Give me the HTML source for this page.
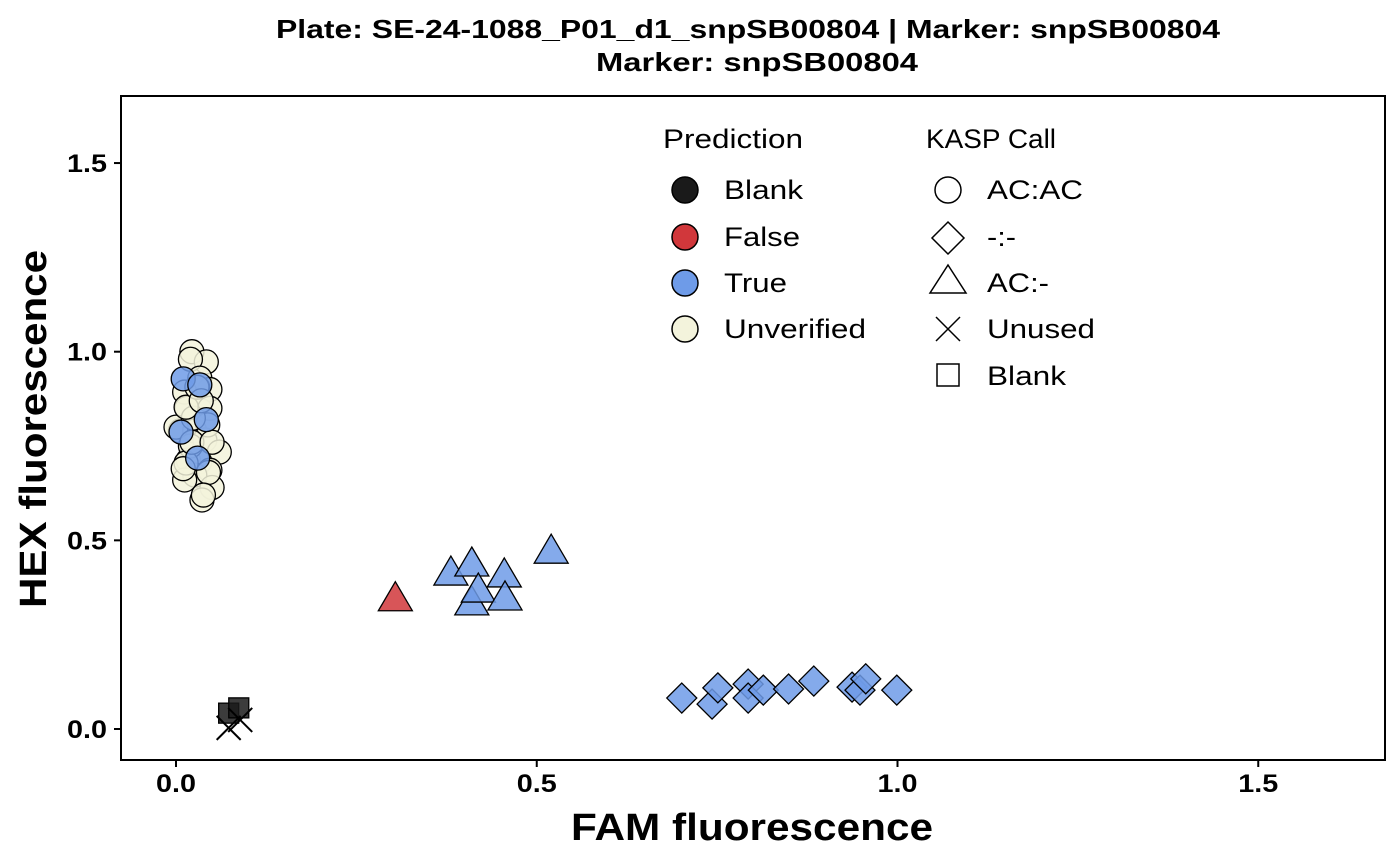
<!DOCTYPE html>
<html><head><meta charset="utf-8"><style>
body{margin:0;background:#fff;}
svg{display:block;font-family:"Liberation Sans",Arial,sans-serif;}
</style></head><body>
<svg id="chart" width="1400" height="865" viewBox="0 0 1400 865">
<text x="748" y="38" text-anchor="middle" font-size="26" font-weight="bold" textLength="944" lengthAdjust="spacingAndGlyphs">Plate: SE-24-1088_P01_d1_snpSB00804 | Marker: snpSB00804</text>
<text x="757" y="71" text-anchor="middle" font-size="26" font-weight="bold" textLength="322" lengthAdjust="spacingAndGlyphs">Marker:  snpSB00804</text>
<g id="marks"></g>
<rect x="121" y="96" width="1264" height="664" fill="none" stroke="#000" stroke-width="2"/>
<g id="axes"></g>
<text x="752" y="840" text-anchor="middle" font-size="38" font-weight="bold" textLength="362" lengthAdjust="spacingAndGlyphs">FAM fluorescence</text>
<text transform="translate(46,429) rotate(-90)" text-anchor="middle" font-size="38" font-weight="bold" textLength="358" lengthAdjust="spacingAndGlyphs">HEX fluorescence</text>
<g id="legend" font-size="27">
<text x="663" y="148" textLength="140" lengthAdjust="spacingAndGlyphs">Prediction</text>
<g><circle cx="685" cy="190" r="13" fill="#1a1a1a" stroke="#000" stroke-width="1.5"/><text x="724" y="199" textLength="79" lengthAdjust="spacingAndGlyphs">Blank</text></g>
<g><circle cx="685" cy="237" r="13" fill="#d1373b" stroke="#000" stroke-width="1.5"/><text x="724" y="246" textLength="76" lengthAdjust="spacingAndGlyphs">False</text></g>
<g><circle cx="685" cy="283" r="13" fill="#6e9be8" stroke="#000" stroke-width="1.5"/><text x="724" y="292" textLength="63" lengthAdjust="spacingAndGlyphs">True</text></g>
<g><circle cx="685" cy="329" r="13" fill="#f3f3dc" stroke="#000" stroke-width="1.5"/><text x="724" y="338" textLength="142" lengthAdjust="spacingAndGlyphs">Unverified</text></g>
<text x="926" y="148" textLength="130" lengthAdjust="spacingAndGlyphs">KASP Call</text>
<g><circle cx="948" cy="190" r="13" fill="none" stroke="#000" stroke-width="1.5"/><text x="987" y="199" textLength="96" lengthAdjust="spacingAndGlyphs">AC:AC</text></g>
<g><path d="M948 222 L964 238 L948 254 L932 238Z" fill="none" stroke="#000" stroke-width="1.5"/><text x="987" y="246" textLength="29" lengthAdjust="spacingAndGlyphs">-:-</text></g>
<g><path d="M948 265 L966 293 L930 293Z" fill="none" stroke="#000" stroke-width="1.5"/><text x="987" y="292" textLength="62" lengthAdjust="spacingAndGlyphs">AC:-</text></g>
<g><path d="M936 317 L960 341 M960 317 L936 341" stroke="#000" stroke-width="1.5"/><text x="987" y="338" textLength="108" lengthAdjust="spacingAndGlyphs">Unused</text></g>
<g><rect x="937" y="364" width="22" height="22" fill="none" stroke="#000" stroke-width="1.5"/><text x="987" y="385" textLength="79" lengthAdjust="spacingAndGlyphs">Blank</text></g>
</g>
</svg>
<script>
const xTicks=[0.0,0.5,1.0,1.5];
const yTicks=[0.0,0.5,1.0,1.5];
const tickLabels=["0.0","0.5","1.0","1.5"];
const fam=[0.022,0.042,0.020,0.033,0.047,0.030,0.012,0.033,0.047,0.015,0.006,0.026,0.040,0.060,0.017,0.033,0.047,0.026,0.012,0.050,0.036,0.000,0.020,0.044,0.024,0.014,0.014,0.029,0.045,0.035,0.022,0.050,0.010,0.038,
 0.010,0.033,0.007,0.030,0.042,
 0.073,0.087,0.073,0.089,
 0.304,
 0.381,0.410,0.410,0.419,0.455,0.456,0.520,
 0.701,0.743,0.751,0.793,0.793,0.814,0.849,0.884,0.937,0.948,0.956,0.999];
const hex=[1.000,0.973,0.980,0.930,0.900,0.905,0.893,0.846,0.850,0.850,0.790,0.790,0.766,0.734,0.713,0.708,0.686,0.673,0.660,0.640,0.607,0.800,0.750,0.806,0.824,0.705,0.853,0.906,0.680,0.870,0.760,0.760,0.690,0.620,
 0.928,0.912,0.787,0.718,0.820,
 0.042,0.056,0.003,0.024,
 0.340,
 0.408,0.432,0.329,0.363,0.403,0.342,0.466,
 0.082,0.066,0.109,0.119,0.082,0.103,0.106,0.127,0.111,0.103,0.133,0.103];
const prediction=[].concat(Array(34).fill("Unverified"),Array(5).fill("True"),Array(4).fill("Blank"),["False"],Array(7).fill("True"),Array(12).fill("True"));
const call=[].concat(Array(39).fill("AC:AC"),["Blank","Blank","Unused","Unused"],Array(8).fill("AC:-"),Array(12).fill("-:-"));
const colors={Blank:"#1a1a1a",False:"#d1373b",True:"#6e9be8",Unverified:"#f3f3dc"};
const X=v=>176+v*721.5, Y=v=>729-v*377.3;
const NS="http://www.w3.org/2000/svg";
const marks=document.getElementById('marks'), axes=document.getElementById('axes');
function mk(t,a,p){const e=document.createElementNS(NS,t);for(const k in a)e.setAttribute(k,a[k]);p.appendChild(e);return e;}
xTicks.forEach((v,i)=>{
 const l=mk('line',{x1:X(v),x2:X(v),y1:760,y2:767,stroke:'#000','stroke-width':2},axes);
 
 
 const t=mk('text',{x:X(v),y:792,'text-anchor':'middle','font-size':25,'font-weight':'bold',textLength:40,lengthAdjust:'spacingAndGlyphs'},axes);t.textContent=tickLabels[i];
 
 
});
yTicks.forEach((v,i)=>{
 const l=mk('line',{x1:114,x2:121,y1:Y(v),y2:Y(v),stroke:'#000','stroke-width':2},axes);
 
 
 const t=mk('text',{x:107,y:Y(v)+9,'text-anchor':'end','font-size':25,'font-weight':'bold',textLength:40,lengthAdjust:'spacingAndGlyphs'},axes);t.textContent=tickLabels[i];
 
 
});
fam.forEach((f,i)=>{
 const cx=X(f), cy=Y(hex[i]), c=colors[prediction[i]], k=call[i];
 let e;
 const st={fill:c,stroke:'#000','stroke-width':1.3,'fill-opacity':0.85};
 if(k==="AC:AC") e=mk('circle',Object.assign({cx:cx,cy:cy,r:12},st),marks);
 else if(k==="-:-") e=mk('path',Object.assign({d:`M${cx} ${cy-15}L${cx+15} ${cy}L${cx} ${cy+15}L${cx-15} ${cy}Z`},st),marks);
 else if(k==="AC:-") e=mk('path',Object.assign({d:`M${cx} ${cy-19}L${cx+17} ${cy+10}L${cx-17} ${cy+10}Z`},st),marks);
 else if(k==="Blank") e=mk('rect',Object.assign({x:cx-10,y:cy-10,width:20,height:20},st),marks);
 else e=mk('path',{d:`M${cx-12} ${cy-12}L${cx+12} ${cy+12}M${cx+12} ${cy-12}L${cx-12} ${cy+12}`,stroke:'#000','stroke-width':2},marks);
 
 
});
</script>
</body></html>
